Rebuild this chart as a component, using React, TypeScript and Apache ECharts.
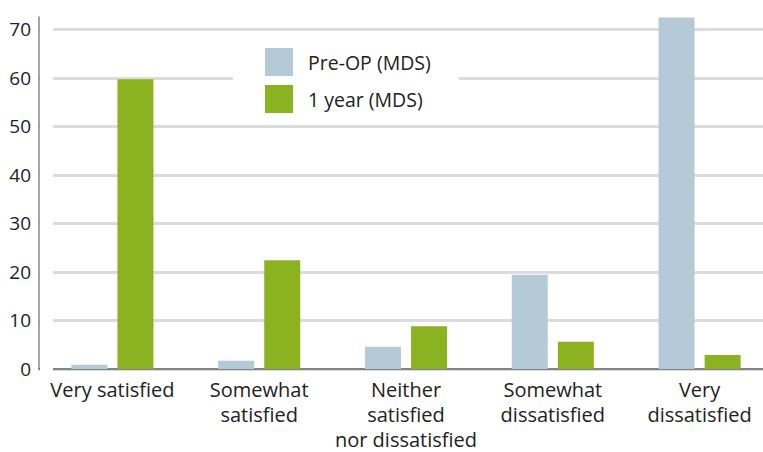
import React, { useEffect, useRef } from "react";
import * as echarts from "echarts";

const categories = [
  "Very satisfied",
  "Somewhat\nsatisfied",
  "Neither\nsatisfied\nnor dissatisfied",
  "Somewhat\ndissatisfied",
  "Very\ndissatisfied",
];
const preOp = [0.9, 1.7, 4.6, 19.4, 72.4];
const oneYear = [59.7, 22.4, 8.8, 5.6, 2.9];
const seriesNames = ["Pre-OP (MDS)", "1 year (MDS)"];

const FONT = "'Open Sans', sans-serif";

export default function App() {
  const ref = useRef<HTMLDivElement>(null);
  useEffect(() => {
    if (!ref.current) return;
    const chart = echarts.init(ref.current, undefined, { renderer: "svg" });
    chart.setOption({
      animation: false,
      backgroundColor: "#ffffff",
      textStyle: { fontFamily: FONT },
      grid: { left: 39, width: 734, top: 17.1, height: 357.4, containLabel: false },
      legend: {
        orient: "vertical",
        left: 233,
        top: 38,
        padding: [10, 28, 10, 32],
        backgroundColor: "#ffffff",
        itemWidth: 28,
        itemHeight: 28,
        itemGap: 9,
        icon: "rect",
        textStyle: { fontSize: 19.5, color: "#222", fontFamily: FONT, padding: [0, 0, 0, 10] },
        data: seriesNames,
      },
      xAxis: {
        type: "category",
        data: categories,
        axisLine: { show: true, lineStyle: { color: "#666", width: 1.5 } },
        axisTick: { show: false },
        axisLabel: {
          interval: 0,
          fontSize: 20,
          lineHeight: 25,
          color: "#222",
          fontFamily: FONT,
          margin: 8,
          verticalAlign: "top",
        },
      },
      yAxis: {
        type: "value",
        min: 0,
        max: 72.5,
        interval: 10,
        axisLine: { show: true, lineStyle: { color: "#888", width: 1.5 } },
        axisTick: { show: false },
        axisLabel: {
          fontSize: 19,
          color: "#222",
          fontFamily: FONT,
          margin: 8,
          showMaxLabel: false,
          formatter: (v: number) => (v % 10 === 0 ? String(v) : ""),
        },
        splitLine: { show: true, showMaxLine: false, lineStyle: { color: "#dcdcdc", width: 3 } },
      },
      graphic: [
        {
          type: "rect",
          shape: { x: 40, y: 10, width: 13, height: 363 },
          style: { fill: "#ffffff" },
          z: 1,
        },
      ],
      series: [
        {
          name: seriesNames[0],
          type: "bar",
          data: preOp,
          barWidth: 36,
          barGap: "28%",
          itemStyle: { color: "#b5cad7" },
          z: 3,
        },
        {
          name: seriesNames[1],
          type: "bar",
          data: oneYear,
          barWidth: 36,
          itemStyle: { color: "#8bb321" },
          z: 3,
        },
      ],
    });
    return () => chart.dispose();
  }, []);
  return (
    <div style={{ width: 763, height: 452, position: "absolute", left: 0, top: 0, overflow: "hidden", background: "#fff" }}>
      <div ref={ref} style={{ width: 790, height: 452 }} />
    </div>
  );
}
